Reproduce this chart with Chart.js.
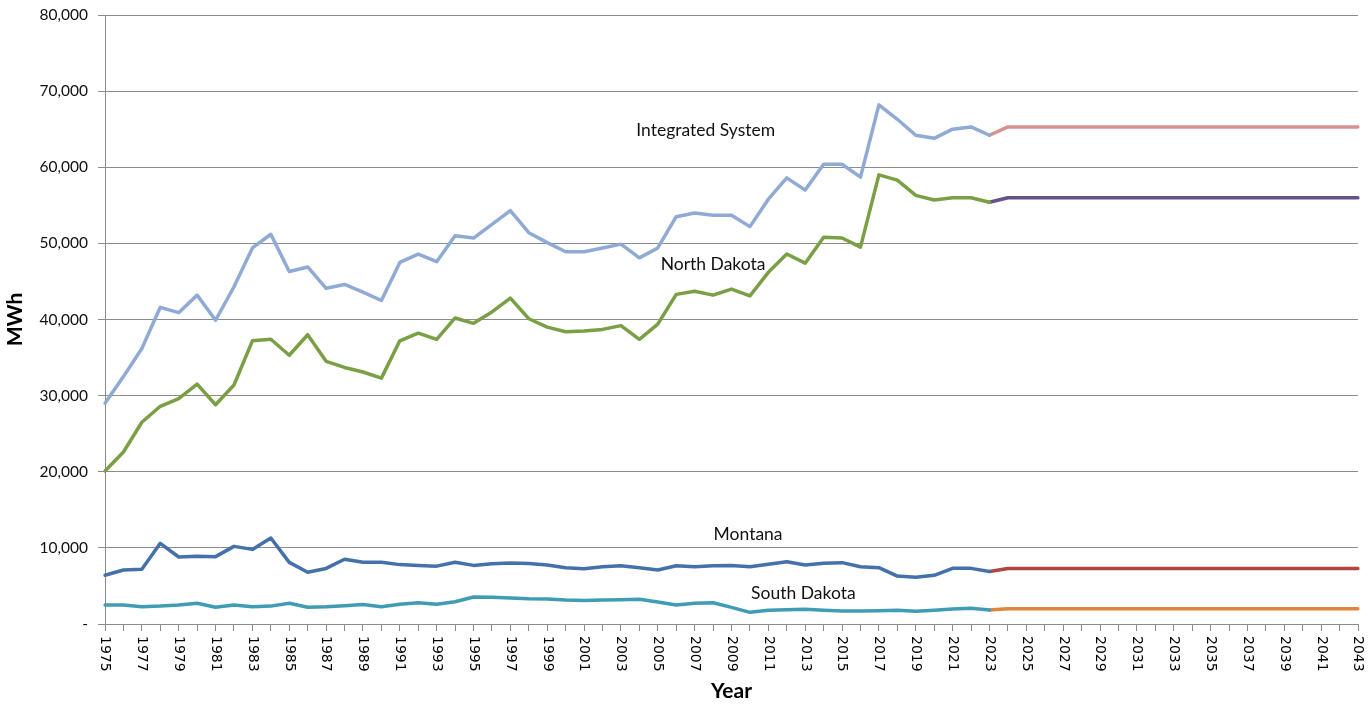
<!DOCTYPE html>
<html>
<head>
<meta charset="utf-8">
<script src="https://cdn.jsdelivr.net/npm/chart.js@4.4.0/dist/chart.umd.min.js"></script>
<style>
    html, body { margin: 0; padding: 0; background: #ffffff; }
</style>
</head>
<body>
<canvas id="myChart" width="1372" height="709"></canvas>
<script>
// categories
var years = ['1975', '1976', '1977', '1978', '1979', '1980', '1981', '1982', '1983', '1984',
    '1985', '1986', '1987', '1988', '1989', '1990', '1991', '1992', '1993', '1994',
    '1995', '1996', '1997', '1998', '1999', '2000', '2001', '2002', '2003', '2004',
    '2005', '2006', '2007', '2008', '2009', '2010', '2011', '2012', '2013', '2014',
    '2015', '2016', '2017', '2018', '2019', '2020', '2021', '2022', '2023', '2024',
    '2025', '2026', '2027', '2028', '2029', '2030', '2031', '2032', '2033', '2034',
    '2035', '2036', '2037', '2038', '2039', '2040', '2041', '2042', '2043'];

// history 1975-2023 (MWh)
var integratedHist = [29000, 32500, 36200, 41600, 40900, 43200, 39900, 44300, 49400, 51200,
    46300, 46900, 44100, 44600, 43600, 42500, 47500, 48600, 47600, 51000,
    50700, 52500, 54300, 51400, 50100, 48900, 48900, 49400, 49900, 48100,
    49400, 53500, 54000, 53700, 53700, 52200, 55800, 58600, 57000, 60400,
    60400, 58700, 68200, 66300, 64200, 63800, 65000, 65300, 64200];
var northDakotaHist = [20100, 22600, 26500, 28600, 29600, 31500, 28800, 31400, 37200, 37400,
    35300, 38000, 34500, 33700, 33100, 32300, 37200, 38200, 37400, 40200,
    39500, 41000, 42800, 40100, 39000, 38400, 38500, 38700, 39200, 37400,
    39400, 43300, 43700, 43200, 44000, 43100, 46200, 48600, 47400, 50800,
    50700, 49500, 59000, 58300, 56300, 55700, 56000, 56000, 55400];
var montanaHist = [6400, 7100, 7200, 10600, 8800, 8900, 8850, 10200, 9800, 11300,
    8100, 6800, 7300, 8500, 8100, 8100, 7800, 7700, 7600, 8100,
    7700, 7900, 8000, 7950, 7750, 7400, 7270, 7530, 7660, 7400,
    7090, 7660, 7530, 7660, 7700, 7530, 7840, 8190, 7750, 7970,
    8060, 7530, 7400, 6300, 6130, 6390, 7310, 7310, 6900];
var southDakotaHist = [2500, 2500, 2270, 2350, 2500, 2720, 2190, 2500, 2270, 2350,
    2720, 2200, 2270, 2400, 2550, 2270, 2600, 2800, 2600, 2930,
    3550, 3500, 3420, 3330, 3300, 3150, 3100, 3150, 3200, 3240,
    2890, 2500, 2720, 2800, 2190, 1530, 1800, 1880, 1930, 1800,
    1710, 1710, 1750, 1800, 1660, 1800, 1970, 2060, 1840];

// forecast 2024-2043 (MWh)
var integratedFcst = [65300, 65300, 65300, 65300, 65300, 65300, 65300, 65300, 65300, 65300,
    65300, 65300, 65300, 65300, 65300, 65300, 65300, 65300, 65300, 65300];
var northDakotaFcst = [56000, 56000, 56000, 56000, 56000, 56000, 56000, 56000, 56000, 56000,
    56000, 56000, 56000, 56000, 56000, 56000, 56000, 56000, 56000, 56000];
var montanaFcst = [7300, 7300, 7300, 7300, 7300, 7300, 7300, 7300, 7300, 7300,
    7300, 7300, 7300, 7300, 7300, 7300, 7300, 7300, 7300, 7300];
var southDakotaFcst = [2000, 2000, 2000, 2000, 2000, 2000, 2000, 2000, 2000, 2000,
    2000, 2000, 2000, 2000, 2000, 2000, 2000, 2000, 2000, 2000];

// y axis
var yMin = 0;
var yMax = 80000;
var yStep = 10000;

// series names written on the plot, anchored at [year index, value]
var seriesLabels = [
    { text: 'Integrated System', at: [32.6, 64800] },
    { text: 'North Dakota', at: [33.0, 47300] },
    { text: 'Montana', at: [34.9, 11800] },
    { text: 'South Dakota', at: [37.9, 4050] }
];

// history padded with nulls for the forecast years
function histData(hist) {
    return hist.concat(new Array(years.length - hist.length).fill(null));
}
// forecast starts at the last history point
function fcstData(hist, fcst) {
    return new Array(hist.length - 1).fill(null).concat([hist[hist.length - 1]], fcst);
}

function lineSet(label, data, color) {
    return {
        label: label,
        data: data,
        borderColor: color,
        backgroundColor: color,
        borderWidth: 3.5,
        pointRadius: 0,
        pointHoverRadius: 0,
        tension: 0,
        fill: false,
        spanGaps: false,
        borderCapStyle: 'round',
        borderJoinStyle: 'round'
    };
}

var yearLabelsPlugin = {
    id: 'yearLabels',
    afterDraw: function (chart) {
        var ctx = chart.ctx;
        var xScale = chart.scales.x;
        var yScale = chart.scales.y;
        var top = chart.chartArea.bottom + 12;

        ctx.save();
        ctx.font = '14px "DejaVu Sans"';
        ctx.fillStyle = '#000000';
        ctx.textAlign = 'left';
        ctx.textBaseline = 'middle';
        for (var i = 0; i < years.length; i += 2) {
            ctx.save();
            ctx.translate(xScale.getPixelForValue(i), top);
            ctx.rotate(Math.PI / 2);
            ctx.fillText(years[i], 0, 0);
            ctx.restore();
        }

        ctx.font = '17.5px Lato';
        ctx.fillStyle = '#111111';
        ctx.textAlign = 'center';
        seriesLabels.forEach(function (l) {
            ctx.fillText(l.text, xScale.getPixelForValue(l.at[0]), yScale.getPixelForValue(l.at[1]));
        });
        ctx.restore();
    }
};

const ctx = document.getElementById('myChart').getContext('2d');
const myChart = new Chart(ctx, {
    type: 'line',
    data: {
        labels: years,
        datasets: [
            lineSet('Integrated System', histData(integratedHist), '#8FAAD4'),
            lineSet('North Dakota', histData(northDakotaHist), '#7A9F44'),
            lineSet('Montana', histData(montanaHist), '#4571AA'),
            lineSet('South Dakota', histData(southDakotaHist), '#409CB5'),
            lineSet('Integrated System Forecast', fcstData(integratedHist, integratedFcst), '#D69191'),
            lineSet('North Dakota Forecast', fcstData(northDakotaHist, northDakotaFcst), '#66518B'),
            lineSet('Montana Forecast', fcstData(montanaHist, montanaFcst), '#B04542'),
            lineSet('South Dakota Forecast', fcstData(southDakotaHist, southDakotaFcst), '#E0863B')
        ]
    },
    options: {
        responsive: false,
        animation: false,
        devicePixelRatio: 1,
        layout: {
            padding: { top: 15, right: 14, left: 0, bottom: 0 }
        },
        plugins: {
            legend: { display: false },
            tooltip: { enabled: false }
        },
        scales: {
            x: {
                type: 'category',
                offset: false,
                afterFit: function (scale) {
                    scale.height = 85;
                    scale.paddingLeft = 0;
                    scale.paddingRight = 0;
                },
                border: { display: true, color: '#8c8c8c', width: 1 },
                grid: {
                    drawOnChartArea: false,
                    drawTicks: true,
                    tickLength: 7,
                    color: '#8c8c8c'
                },
                ticks: {
                    display: false,
                    autoSkip: false
                },
                title: {
                    display: true,
                    text: 'Year',
                    color: '#000000',
                    font: { family: 'Lato', size: 21, weight: 'bold', lineHeight: 1.2 },
                    padding: { top: 0, bottom: 5 }
                }
            },
            y: {
                min: yMin,
                max: yMax,
                afterFit: function (scale) {
                    scale.width = 105;
                    scale.paddingTop = 0;
                    scale.paddingBottom = 0;
                },
                border: { display: true, color: '#8c8c8c', width: 1 },
                grid: {
                    color: '#8c8c8c',
                    lineWidth: 1,
                    drawTicks: true,
                    tickLength: 7
                },
                ticks: {
                    stepSize: yStep,
                    padding: 10,
                    color: '#111111',
                    font: { family: 'Lato', size: 15.5 },
                    callback: function (value) {
                        if (value == 0) {
                            return '-';
                        }
                        return value.toLocaleString('en-US');
                    }
                },
                title: {
                    display: true,
                    text: 'MWh',
                    color: '#000000',
                    font: { family: 'Lato', size: 21, weight: 'bold', lineHeight: 1.2 },
                    padding: { top: 3, bottom: 0 }
                }
            }
        }
    },
    plugins: [yearLabelsPlugin]
});
</script>
</body>
</html>
